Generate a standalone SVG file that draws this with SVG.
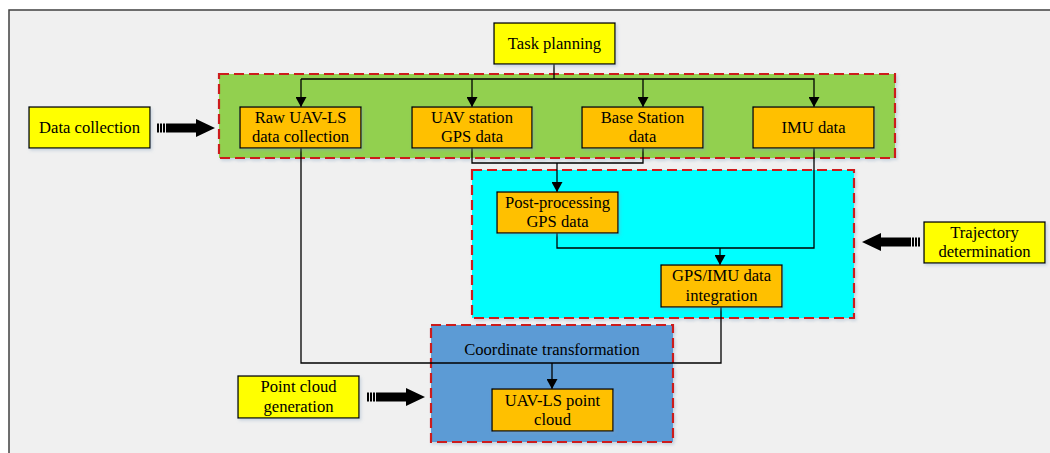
<svg xmlns="http://www.w3.org/2000/svg" width="1050" height="453" viewBox="0 0 1050 453">
<defs>
<style>
.frame{fill:#f0f0f0;stroke:#404040;stroke-width:1.5}
.grp{stroke:#cc1a1a;stroke-width:2.2;stroke-dasharray:10,5}
.box{stroke:#000;stroke-width:1.3}
.y{fill:#ffff00}
.o{fill:#ffc000}
.t{font-family:"Liberation Serif","Times New Roman",serif;font-size:16.6px;fill:#000;text-anchor:middle}
.ln{fill:none;stroke:#000;stroke-width:1.3}
</style>
<marker id="ah" markerWidth="10" markerHeight="11" refX="10" refY="5.5" orient="auto" markerUnits="userSpaceOnUse">
<path d="M0,0 L10,5.5 L0,11 Z" fill="#000"/>
</marker>
<filter id="sh" x="-10%" y="-10%" width="130%" height="140%">
<feDropShadow dx="1.5" dy="2" stdDeviation="1.5" flood-color="#7f9fbf" flood-opacity="0.35"/>
</filter>
<g id="barrow">
<rect x="-58" y="-4.5" width="2" height="9" fill="#000"/>
<rect x="-55" y="-4.5" width="2" height="9" fill="#000"/>
<rect x="-52" y="-4.5" width="2" height="9" fill="#000"/>
<path d="M-49,-4.5 H-19 V-9 L0,0 L-19,9 V4.5 H-49 Z" fill="#000"/>
</g>
</defs>
<rect class="frame" x="9" y="10" width="1045" height="450"/>

<g id="group-collection"><rect class="grp" x="219" y="74" width="676" height="84" fill="#92d050" filter="url(#sh)"/></g>
<g id="group-trajectory"><rect class="grp" x="472" y="170" width="382" height="148" fill="#00ffff" filter="url(#sh)"/></g>
<g id="group-pointcloud"><rect class="grp" x="431" y="325" width="242" height="117" fill="#5b9bd5" filter="url(#sh)"/>
<text class="t" x="552" y="355">Coordinate transformation</text></g>

<g id="connectors">
<path class="ln" d="M554,64 V79"/>
<path class="ln" d="M301,79 H814 V107" marker-end="url(#ah)"/>
<path class="ln" d="M301,79 V107" marker-end="url(#ah)"/>
<path class="ln" d="M472,79 V107" marker-end="url(#ah)"/>
<path class="ln" d="M643,79 V107" marker-end="url(#ah)"/>
<path class="ln" d="M472,148 V163 H643 V148"/>
<path class="ln" d="M557,163 V192" marker-end="url(#ah)"/>
<path class="ln" d="M557,233 V248 H814 V148"/>
<path class="ln" d="M720,248 V265" marker-end="url(#ah)"/>
<path class="ln" d="M301,148 V363 H721 V307"/>
<path class="ln" d="M552,363 V389" marker-end="url(#ah)"/>
<use href="#barrow" transform="translate(215,128)"/>
<use href="#barrow" transform="translate(862,242) rotate(180)"/>
<use href="#barrow" transform="translate(425,397)"/>
</g>

<g id="task-planning"><rect class="box y" x="494" y="23" width="121" height="41" filter="url(#sh)"/><text class="t" x="554.5" y="49">Task planning</text></g>
<g id="data-collection"><rect class="box y" x="29" y="107" width="121" height="41" filter="url(#sh)"/><text class="t" x="89.5" y="133">Data collection</text></g>
<g id="raw-uav"><rect class="box o" x="240" y="107" width="121" height="41" filter="url(#sh)"/><text class="t" x="300.5" y="123">Raw UAV-LS</text><text class="t" x="300.5" y="142">data collection</text></g>
<g id="uav-gps"><rect class="box o" x="412" y="107" width="120" height="41" filter="url(#sh)"/><text class="t" x="472" y="123">UAV station</text><text class="t" x="472" y="142">GPS data</text></g>
<g id="base-station"><rect class="box o" x="582" y="107" width="121" height="41" filter="url(#sh)"/><text class="t" x="642.5" y="123">Base Station</text><text class="t" x="642.5" y="142">data</text></g>
<g id="imu"><rect class="box o" x="753" y="107" width="121" height="41" filter="url(#sh)"/><text class="t" x="813.5" y="133">IMU data</text></g>
<g id="post-processing"><rect class="box o" x="497" y="192" width="121" height="41" filter="url(#sh)"/><text class="t" x="557.5" y="208">Post-processing</text><text class="t" x="557.5" y="227">GPS data</text></g>
<g id="gps-imu"><rect class="box o" x="661" y="265" width="121" height="42" filter="url(#sh)"/><text class="t" x="721.5" y="281">GPS/IMU data</text><text class="t" x="721.5" y="301">integration</text></g>
<g id="trajectory"><rect class="box y" x="924" y="222" width="121" height="41" filter="url(#sh)"/><text class="t" x="984.5" y="238">Trajectory</text><text class="t" x="984.5" y="257">determination</text></g>
<g id="uav-point-cloud"><rect class="box o" x="492" y="389" width="121" height="42" filter="url(#sh)"/><text class="t" x="552.5" y="406">UAV-LS point</text><text class="t" x="552.5" y="425">cloud</text></g>
<g id="point-cloud-gen"><rect class="box y" x="238" y="376" width="121" height="42" filter="url(#sh)"/><text class="t" x="298.5" y="392">Point cloud</text><text class="t" x="298.5" y="412">generation</text></g>
</svg>
